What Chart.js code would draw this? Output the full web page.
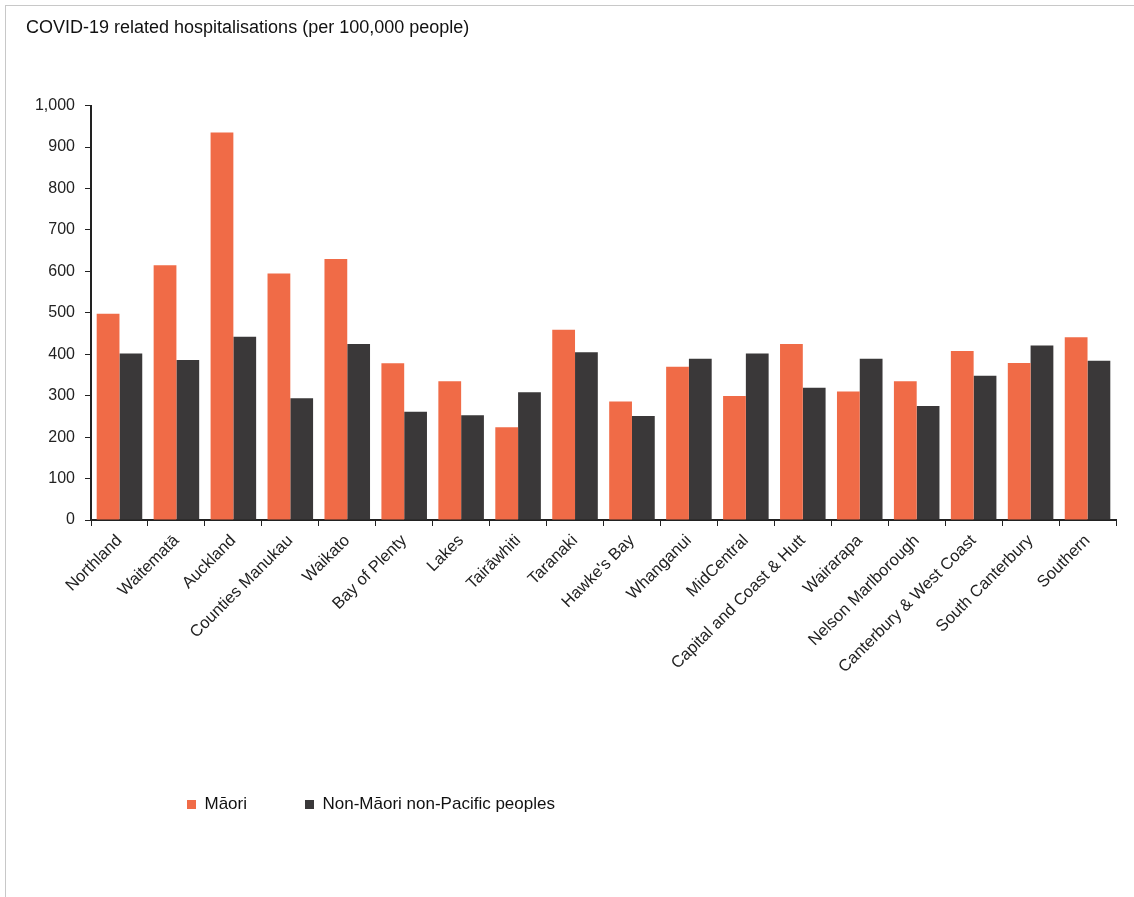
<!DOCTYPE html>
<html>
<head>
<meta charset="utf-8">
<title>COVID-19 related hospitalisations</title>
<script src="https://cdn.jsdelivr.net/npm/chart.js@4"></script>
<style>
  html, body { margin: 0; padding: 0; background: #fff; }
  #wrap { position: relative; width: 1134px; height: 897px; }
  #frame { position: absolute; left: 5px; top: 5px; right: 0; bottom: 0;
           border-top: 1px solid #c8c8c8; border-left: 1px solid #c8c8c8; }
  #graph { position: absolute; left: 0; top: 0; }
</style>
</head>
<body>
<div id="wrap">
  <div id="frame"></div>
  <canvas id="graph" width="1134" height="897"></canvas>
</div>
<script>
// datos
const regiones = [
  "Northland", "Waitematā", "Auckland", "Counties Manukau", "Waikato",
  "Bay of Plenty", "Lakes", "Tairāwhiti", "Taranaki", "Hawke's Bay",
  "Whanganui", "MidCentral", "Capital and Coast & Hutt", "Wairarapa",
  "Nelson Marlborough", "Canterbury & West Coast", "South Canterbury", "Southern"
];
const maori = [498, 615, 935, 595, 630, 378, 335, 224, 459, 286, 370, 299, 425, 310, 335, 408, 379, 441];
const noMaori = [402, 386, 442, 294, 425, 261, 253, 308, 405, 251, 389, 402, 319, 389, 275, 348, 421, 384];
const yTicks = [0, 100, 200, 300, 400, 500, 600, 700, 800, 900, 1000];

const fuente = "Arial, 'Liberation Sans', sans-serif";

// mueve la leyenda a su sitio (abajo a la izquierda)
const moverLeyenda = {
  id: "moverLeyenda",
  afterLayout(chart) {
    const lg = chart.legend;
    lg.left += 103;
    lg.right += 103;
  }
};

const config = {
  type: "bar",
  data: {
    labels: regiones,
    datasets: [
      { label: "Māori", data: maori, backgroundColor: "#F06B47" },
      { label: "Non-Māori non-Pacific peoples", data: noMaori, backgroundColor: "#3A3839" }
    ]
  },
  options: {
    responsive: false,
    animation: false,
    layout: { padding: { left: 26, right: 18, top: 10, bottom: 74 } },
    datasets: { bar: { categoryPercentage: 0.8, barPercentage: 1.0 } },
    plugins: {
      tooltip: { enabled: false },
      title: {
        display: true,
        text: "COVID-19 related hospitalisations (per 100,000 people)",
        align: "start",
        color: "#111",
        font: { family: fuente, size: 18, weight: "normal" },
        padding: { top: 7, bottom: 67 }
      },
      legend: {
        position: "bottom",
        align: "start",
        labels: {
          color: "#111",
          font: { family: fuente, size: 17 },
          boxWidth: 9,
          boxHeight: 9,
          padding: 58
        }
      }
    },
    scales: {
      x: {
        grid: { display: true, drawOnChartArea: false, color: "#222", tickLength: 6, offset: true },
        border: { display: true, color: "#222", width: 2 },
        ticks: {
          color: "#222",
          font: { family: fuente, size: 16.5 },
          maxRotation: 45,
          minRotation: 45,
          autoSkip: false,
          padding: 5
        },
        afterFit(scale) { scale.height = 218; }
      },
      y: {
        min: 0,
        max: 1000,
        afterBuildTicks(scale) { scale.ticks = yTicks.map(v => ({ value: v })); },
        grid: { display: true, drawOnChartArea: false, color: "#222", tickLength: 6 },
        border: { display: true, color: "#222", width: 2 },
        ticks: {
          color: "#222",
          font: { family: fuente, size: 16 },
          padding: 10,
          callback: v => v.toLocaleString("en-US")
        },
        afterFit(scale) { scale.width = 65; }
      }
    }
  },
  plugins: [moverLeyenda]
};

const graphCanvas = document.getElementById("graph");
window.myChart = new Chart(graphCanvas, config);
</script>
</body>
</html>
